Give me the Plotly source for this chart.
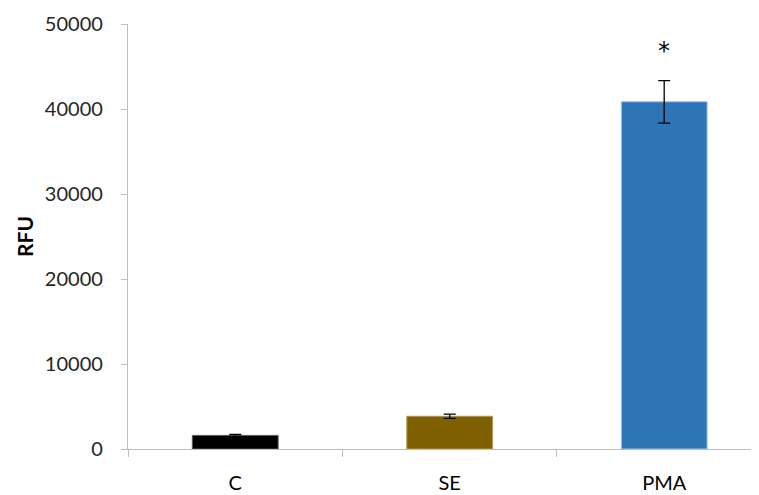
import plotly.graph_objects as go

categories = ["C", "SE", "PMA"]
values = [1600, 3850, 40850]
errors = [120, 250, 2500]
colors = ["#000000", "#7f6000", "#2e75b6"]
edge_colors = ["#595959", "#b09a5a", "#9dc3e6"]
sig_labels = ["", "", "*"]

fig = go.Figure()
fig.add_trace(go.Bar(
    x=categories, y=values,
    marker=dict(color=colors, line=dict(color=edge_colors, width=1)),
    width=0.4,
    error_y=dict(type="data", array=errors, visible=True, color="#000000",
                 thickness=1.3, width=6),
))

for c, v, e, s in zip(categories, values, errors, sig_labels):
    if s:
        fig.add_annotation(x=c, y=v + e, text=s, showarrow=False,
                           yanchor="middle", yshift=30,
                           font=dict(family="DejaVu Sans", size=24, color="#000000"))

font_family = "Lato"
fig.update_layout(
    width=751, height=487,
    margin=dict(l=120, r=0, t=16, b=46),
    plot_bgcolor="white", paper_bgcolor="white",
    showlegend=False,
    font=dict(family=font_family, color="#000000"),
    xaxis=dict(
        type="category", range=[-0.5, 2.442],
        showline=True, linecolor="#bfbfbf", linewidth=1.3,
        ticks="outside", tickson="boundaries", ticklen=7, tickcolor="#bfbfbf",
        tickfont=dict(size=20, family=font_family, color="#000000"),
        ticklabelstandoff=16,
        showgrid=False,
    ),
    yaxis=dict(
        range=[0, 50000], tickvals=[0, 10000, 20000, 30000, 40000, 50000],
        tickformat="d",
        showline=True, linecolor="#bfbfbf", linewidth=1.3,
        ticks="outside", ticklen=6, tickcolor="#bfbfbf",
        tickfont=dict(size=20, family=font_family, color="#262626"),
        ticklabelstandoff=14,
        showgrid=False, zeroline=False,
        title=dict(text="<b>RFU</b>", font=dict(size=21, family=font_family, color="#000000"), standoff=5),
    ),
)

fig.write_html("out.html")
